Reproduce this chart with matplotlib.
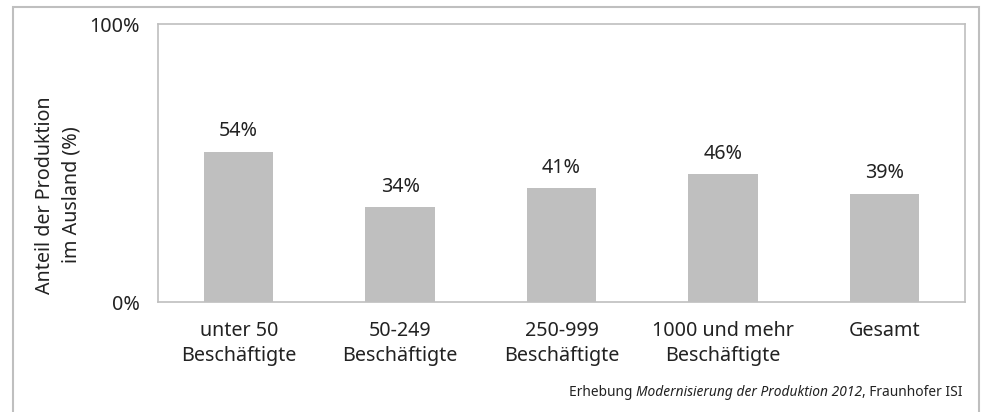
import matplotlib
matplotlib.use("Agg")
import matplotlib.pyplot as plt
from matplotlib.patches import Rectangle

categories = ["unter 50\nBeschäftigte", "50-249\nBeschäftigte", "250-999\nBeschäftigte",
              "1000 und mehr\nBeschäftigte", "Gesamt"]
values = [54, 34, 41, 46, 39]
y_ticks = [0, 100]
y_tick_labels = ["0%", "100%"]

plt.rcParams['font.family'] = ['Noto Sans', 'DejaVu Sans']
grey = "#bfbfbf"
text_col = "#222222"
fs = 14.2

fig = plt.figure(figsize=(9.86, 4.12), dpi=100)
W, H = 986, 412
ax = fig.add_axes([158 / W, 1 - 302 / H, (965 - 158) / W, (302 - 24) / H])

x = range(len(categories))
ax.bar(x, values, width=0.43, color=grey, zorder=2)
for i, v in zip(x, values):
    ax.annotate(f"{v}%", (i, v), xytext=(0, 7.5), textcoords="offset points",
                ha="center", va="bottom", fontsize=fs, color=text_col)

ax.set_xlim(-0.5, len(categories) - 0.5)
ax.set_ylim(0, 100)
ax.set_yticks(y_ticks)
ax.set_yticklabels(y_tick_labels, fontsize=fs, color=text_col)
ax.set_xticks(list(x))
ax.set_xticklabels(categories, fontsize=fs, color=text_col, linespacing=1.3)
ax.tick_params(axis="x", length=0, pad=14)
ax.tick_params(axis="y", length=0, pad=13)
for s in ax.spines.values():
    s.set_color(grey)
    s.set_linewidth(1.2)
ax.set_ylabel("Anteil der Produktion\nim Ausland (%)", fontsize=fs, color=text_col,
              linespacing=1.4)
ax.yaxis.set_label_coords(-0.095, 0.385)

# outer frame
fig.patches.append(Rectangle((13 / W, -0.1), (979 - 13) / W, 1.1 - 7 / H,
                             transform=fig.transFigure, fill=False,
                             edgecolor=grey, linewidth=1.5))

# footer with italic middle part
fig.canvas.draw()
r = fig.canvas.get_renderer()
yf = 1 - 392 / H
xr = 963 / W
parts = [(", Fraunhofer ISI", "normal"), ("Modernisierung der Produktion 2012", "italic"),
         ("Erhebung ", "normal")]
for txt, st in parts:
    t = fig.text(xr, yf, txt, ha="right", va="center", fontsize=9.9, style=st, color=text_col)
    bb = t.get_window_extent(r)
    xr -= bb.width / W

fig.savefig("out.png", dpi=100)
